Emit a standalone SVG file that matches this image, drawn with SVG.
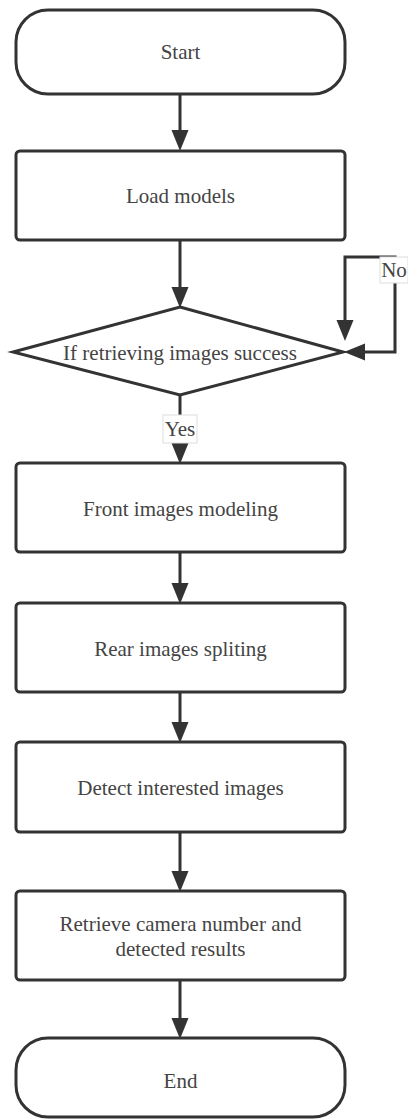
<svg xmlns="http://www.w3.org/2000/svg" width="408" height="1119" viewBox="0 0 408 1119">
<style>
.n{fill:#fff;stroke:#333;stroke-width:3}
.t{font-family:'Liberation Serif','Times New Roman',serif;font-size:21px;fill:#444;text-anchor:middle;dominant-baseline:central}
.e{fill:none;stroke:#333;stroke-width:3}
.lb{fill:#fff;stroke:#ddd;stroke-width:1}
</style>
<defs>
<marker id="ah" markerUnits="userSpaceOnUse" markerWidth="22" markerHeight="18" refX="10" refY="9" orient="auto-start-reverse" viewBox="0 0 22 18">
<path d="M0,0.5 L21,9 L0,17.5 z" fill="#333"/>
</marker>
</defs>
<g id="connectors">
<path class="e" d="M180,94 V140" marker-end="url(#ah)"/>
<path class="e" d="M180,240 V297" marker-end="url(#ah)"/>
<path class="e" d="M180,395 V453" marker-end="url(#ah)"/>
<path class="e" d="M180,552 V593" marker-end="url(#ah)"/>
<path class="e" d="M180,692 V732" marker-end="url(#ah)"/>
<path class="e" d="M180,832 V881" marker-end="url(#ah)"/>
<path class="e" d="M180,980 V1028" marker-end="url(#ah)"/>
<path class="e" d="M345,330 V257 H395 V352 H355" marker-start="url(#ah)" marker-end="url(#ah)"/>
<g id="label-yes"><rect class="lb" x="163" y="415" width="34" height="28"/><text class="t" x="180" y="429">Yes</text></g>
<g id="label-no"><rect class="lb" x="380" y="257" width="28" height="26"/><text class="t" x="394" y="270">No</text></g>
</g>
<g id="start"><rect class="n" x="16" y="10" width="329" height="84" rx="32" ry="32"/><text class="t" x="180.5" y="52">Start</text></g>
<g id="load"><rect class="n" x="16" y="151" width="329" height="89" rx="4"/><text class="t" x="180.5" y="196">Load models</text></g>
<g id="decision"><polygon class="n" points="180,307 343,352 180,395 13,352"/><text class="t" x="180" y="353">If retrieving images success</text></g>
<g id="front"><rect class="n" x="16" y="463" width="329" height="89" rx="4"/><text class="t" x="180.5" y="509">Front images modeling</text></g>
<g id="rear"><rect class="n" x="16" y="603" width="329" height="89" rx="4"/><text class="t" x="180.5" y="649">Rear images spliting</text></g>
<g id="detect"><rect class="n" x="16" y="742" width="329" height="90" rx="4"/><text class="t" x="180.5" y="788">Detect interested images</text></g>
<g id="retrieve"><rect class="n" x="16" y="891" width="329" height="89" rx="4"/><text class="t" x="180.5" y="924">Retrieve camera number and</text><text class="t" x="180.5" y="949">detected results</text></g>
<g id="end"><rect class="n" x="16" y="1038" width="329" height="79" rx="32" ry="32"/><text class="t" x="180.5" y="1081">End</text></g>
</svg>
